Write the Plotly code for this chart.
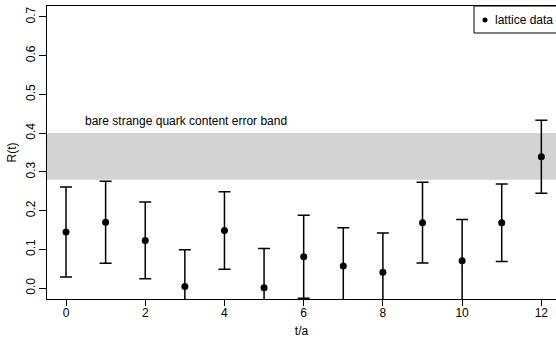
import plotly.graph_objects as go

# data
t = [0, 1, 2, 3, 4, 5, 6, 7, 8, 9, 10, 11, 12]
R = [0.145, 0.170, 0.123, 0.004, 0.149, 0.001, 0.081, 0.057, 0.041, 0.169, 0.071, 0.169, 0.339]
R_err = [0.116, 0.106, 0.099, 0.095, 0.100, 0.101, 0.107, 0.099, 0.101, 0.104, 0.106, 0.100, 0.094]
band_lo, band_hi = 0.28, 0.40
band_label = "bare strange quark content error band"
legend_label = "lattice data"
x_ticks = [0, 2, 4, 6, 8, 10, 12]
y_ticks = [0.0, 0.1, 0.2, 0.3, 0.4, 0.5, 0.6, 0.7]

FONT = "Liberation Sans, Arial, Helvetica, sans-serif"

fig = go.Figure()
fig.add_trace(go.Scatter(
    x=t, y=R, mode="markers", name=legend_label, showlegend=False,
    marker=dict(color="black", size=7),
    error_y=dict(type="data", array=R_err, visible=True, color="black",
                 thickness=1.5, width=6),
))

# error band
fig.add_shape(type="rect", xref="paper", yref="y", x0=0, x1=1,
              y0=band_lo, y1=band_hi, fillcolor="#d3d3d3",
              line=dict(width=0), layer="below")
fig.add_annotation(x=0.42, y=0.431, xref="x", yref="y", text=band_label,
                   showarrow=False, xanchor="left", yanchor="middle",
                   font=dict(family=FONT, size=12, color="black"))

# legend (box clipped by the right edge, as in the reference)
fig.add_shape(type="rect", xref="paper", yref="paper", x0=0.8389, x1=1.1,
              y0=0.9078, y1=1.0, fillcolor="white",
              line=dict(color="black", width=1), layer="above")
fig.add_shape(type="circle", xref="paper", yref="paper",
              xsizemode="pixel", ysizemode="pixel", xanchor=0.8605, yanchor=0.9522,
              x0=-2.5, x1=2.5, y0=-2.5, y1=2.5,
              fillcolor="black", line=dict(color="black", width=0), layer="above")
fig.add_annotation(x=0.876, y=0.9522, xref="paper", yref="paper", text=legend_label,
                   showarrow=False, xanchor="left", yanchor="middle",
                   font=dict(family=FONT, size=12, color="black"))

fig.update_layout(
    width=556, height=338,
    margin=dict(l=47, r=0, t=6, b=39, autoexpand=False),
    paper_bgcolor="white", plot_bgcolor="white",
    font=dict(family=FONT, size=12, color="black"),
    showlegend=False,
)
fig.update_xaxes(
    range=[-0.48, 12.37], tickvals=x_ticks, ticktext=[str(v) for v in x_ticks],
    showgrid=False, zeroline=False, showline=True, linecolor="black", linewidth=1,
    mirror=True, ticks="outside", ticklen=6, tickwidth=1, tickcolor="black",
    ticklabelstandoff=-3,
    title=dict(text="t/a", standoff=9, font=dict(size=12)),
    tickfont=dict(size=12), automargin=True,
)
fig.update_yaxes(
    range=[-0.028, 0.728], tickvals=y_ticks, ticktext=[f"{v:.1f}" for v in y_ticks],
    showgrid=False, zeroline=False, showline=True, linecolor="black", linewidth=1,
    mirror=False, ticks="outside", ticklen=7, tickwidth=1, tickcolor="black",
    tickangle=-90, ticklabelstandoff=-1,
    title=dict(text="R(t)", standoff=5, font=dict(size=12)),
    tickfont=dict(size=12), automargin=True,
)

fig.write_html("out.html")
